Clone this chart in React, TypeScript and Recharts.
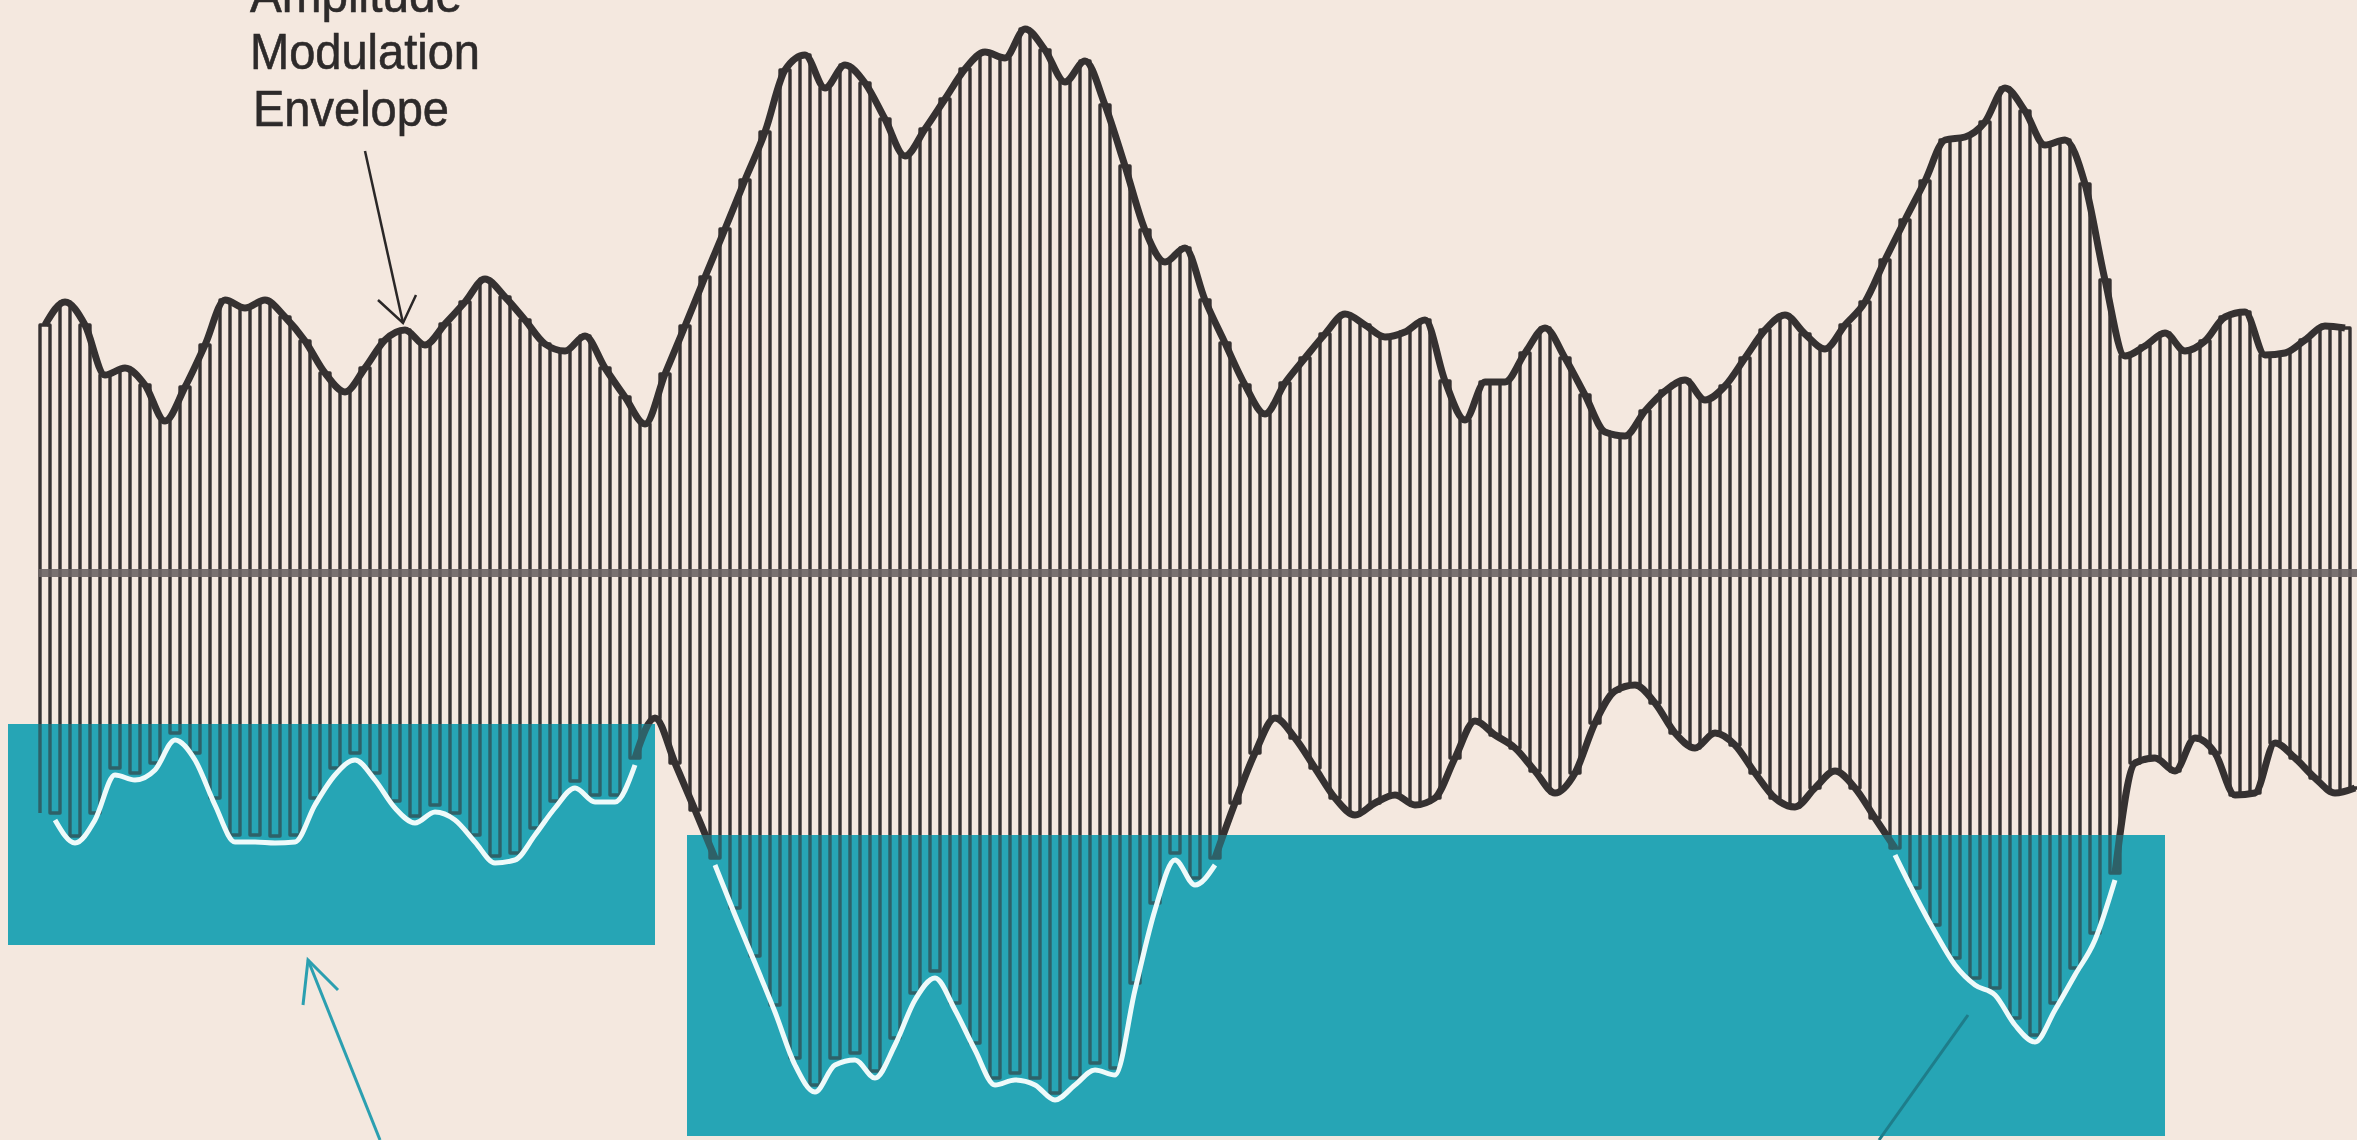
import React from 'react';
import { ComposedChart, Line, Area, XAxis, YAxis } from 'recharts';

// amplitude of the carrier peaks above / below the centre line, one value per carrier cycle
const upperEnv = [
  248, 271, 248, 198, 205, 188, 152, 186, 228, 273,
  265, 273, 256, 232, 200, 181, 205, 233, 243, 228,
  249, 271, 294, 276, 253, 229, 222, 237, 205, 176,
  149, 199, 247, 296, 344, 393, 441, 503, 518, 485,
  508, 490, 454, 417, 444, 474, 504, 521, 515, 544,
  523, 491, 512, 468, 407, 343, 311, 325, 273, 230,
  188, 159, 190, 215, 239, 259, 248, 236, 241, 253,
  192, 153, 191, 191, 220, 245, 215, 178, 141, 137,
  162, 182, 193, 173, 187, 215, 243, 258, 239, 224,
  248, 271, 313, 353, 392, 433, 436, 451, 485, 462,
  428, 433, 389, 293, 217, 227, 240, 222, 232, 256,
  261, 218, 220, 233, 247, 245,
];

const lowerEnv = [
  240, 263, 240, 195, 200, 190, 160, 180, 225, 262,
  262, 263, 262, 225, 195, 180, 200, 228, 243, 232,
  240, 262, 283, 280, 255, 228, 208, 222, 222, 185,
  145, 190, 237, 285, 335, 383, 432, 485, 512, 485,
  480, 498, 465, 420, 398, 430, 470, 505, 500, 505,
  520, 505, 490, 495, 410, 330, 280, 305, 285, 230,
  180, 145, 165, 195, 225, 242, 230, 222, 232, 225,
  185, 148, 162, 175, 198, 220, 200, 150, 118, 112,
  130, 160, 175, 160, 172, 200, 225, 234, 215, 198,
  215, 245, 275, 315, 352, 385, 405, 415, 445, 462,
  430, 395, 360, 300, 190, 185, 198, 165, 180, 222,
  220, 170, 185, 205, 220, 215,
];

// teal highlight boxes (data units)
const boxes = [
  { x1: 8, x2: 655, top: -151, bottom: -372 },
  { x1: 687, x2: 2165, top: -262, bottom: -563 },
];

// pointer lines (data units)
const envelopePointer = [
  [{ x: 365, v: 422 }, { x: 403, v: 250 }],
  [{ x: 378, v: 273 }, { x: 403, v: 250 }, { x: 416, v: 278 }],
];
const boxPointer = [
  [{ x: 380, v: -567 }, { x: 308, v: -387 }],
  [{ x: 303, v: -432 }, { x: 308, v: -387 }, { x: 338, v: -417 }],
];
const boxPointer2 = [{ x: 1879, v: -567 }, { x: 1968, v: -442 }];

const labelLines = ['Amplitude', 'Modulation', 'Envelope'];

const W = 2357;
const H = 1140;
const PERIOD = 20;
const START = 40;
const TEAL = '#27a5b5';
const INK = '#353131';

const carrier = [{ x: START, v: -lowerEnv[0] }];
upperEnv.forEach((u, k) => {
  const x0 = START + k * PERIOD;
  carrier.push(
    { x: x0, v: u },
    { x: x0 + PERIOD / 2, v: u },
    { x: x0 + PERIOD / 2, v: -lowerEnv[k] },
    { x: x0 + PERIOD, v: -lowerEnv[k] }
  );
});

const upperLine = upperEnv.map((u, k) => ({ x: START + k * PERIOD + PERIOD / 4, v: u }));
const lowerLine = lowerEnv.map((l, k) => ({ x: START + k * PERIOD + (3 * PERIOD) / 4, v: -l }));

const inBox = (p) => boxes.some((b) => p.x >= b.x1 && p.x <= b.x2 && p.v < b.top);
const flags = lowerLine.map(inBox);
const lowerWhite = lowerLine.map((p, i) => ({ x: p.x, v: flags[i] ? p.v : null }));
const lowerDark = lowerLine.map((p, i) => ({
  x: p.x,
  v: !flags[i] || flags[i - 1] === false || flags[i + 1] === false ? p.v : null,
}));

const boxData = boxes.map((b) => [
  { x: b.x1, r: [b.bottom, b.top] },
  { x: b.x2, r: [b.bottom, b.top] },
]);

const centre = [{ x: 38, v: 0 }, { x: W, v: 0 }];

const App = () => {
  return (
    <div style={{ position: 'fixed', left: 0, top: 0, width: W, height: H, background: '#f4e8df', overflow: 'hidden' }}>
      <style>{`.env-white { transform: translateY(7px); }`}</style>
      <ComposedChart width={W} height={H} margin={{ top: 0, right: 0, bottom: 0, left: 0 }}>
        <XAxis dataKey="x" type="number" domain={[0, W]} allowDataOverflow hide />
        <YAxis type="number" domain={[-567, 573]} allowDataOverflow hide />

        {boxData.map((d, i) => (
          <Area key={'box' + i} data={d} dataKey="r" type="linear" fill={TEAL} fillOpacity={1}
            stroke="none" dot={false} activeDot={false} isAnimationActive={false} zIndex={100} />
        ))}

        <Line data={carrier} dataKey="v" type="linear" stroke={INK} strokeWidth={3.4}
          strokeLinejoin="round" dot={false} activeDot={false} isAnimationActive={false} zIndex={400} />

        <Line data={centre} dataKey="v" type="linear" stroke="#6c6464" strokeWidth={8}
          strokeOpacity={0.9} dot={false} activeDot={false} isAnimationActive={false} zIndex={410} />

        <Line data={upperLine} dataKey="v" type="monotone" stroke={INK} strokeWidth={7}
          dot={false} activeDot={false} isAnimationActive={false} zIndex={420} />
        <Line data={lowerDark} dataKey="v" type="monotone" stroke={INK} strokeWidth={7}
          connectNulls={false} dot={false} activeDot={false} isAnimationActive={false} zIndex={420} />

        {boxData.map((d, i) => (
          <Area key={'veil' + i} data={d} dataKey="r" type="linear" fill={TEAL} fillOpacity={0.42}
            stroke="none" dot={false} activeDot={false} isAnimationActive={false} zIndex={450} />
        ))}

        <Line className="env-white" data={lowerWhite} dataKey="v" type="monotone" stroke="#eefafa"
          strokeWidth={5} connectNulls={false} dot={false} activeDot={false} isAnimationActive={false} zIndex={460} />

        {envelopePointer.map((d, i) => (
          <Line key={'ep' + i} data={d} dataKey="v" type="linear" stroke="#2a2727" strokeWidth={2.5}
            dot={false} activeDot={false} isAnimationActive={false} zIndex={470} />
        ))}
        {boxPointer.map((d, i) => (
          <Line key={'bp' + i} data={d} dataKey="v" type="linear" stroke="#2b9fb0" strokeWidth={3}
            dot={false} activeDot={false} isAnimationActive={false} zIndex={470} />
        ))}
        <Line data={boxPointer2} dataKey="v" type="linear" stroke="#1e7d8a" strokeWidth={3}
          dot={false} activeDot={false} isAnimationActive={false} zIndex={470} />
      </ComposedChart>

      <svg width={W} height={H} style={{ position: 'absolute', left: 0, top: 0, pointerEvents: 'none' }}>
        <g fontFamily="'Liberation Sans Narrow', 'Liberation Sans', Arial, sans-serif" fontSize={50}
          fill="#2d2a2a" stroke="#2d2a2a" strokeWidth={0.6}>
          <text x={250} y={12} textLength={212} lengthAdjust="spacingAndGlyphs">{labelLines[0]}</text>
          <text x={250} y={69} textLength={230} lengthAdjust="spacingAndGlyphs">{labelLines[1]}</text>
          <text x={253} y={126} textLength={196} lengthAdjust="spacingAndGlyphs">{labelLines[2]}</text>
        </g>
      </svg>
    </div>
  );
};

export default App;
